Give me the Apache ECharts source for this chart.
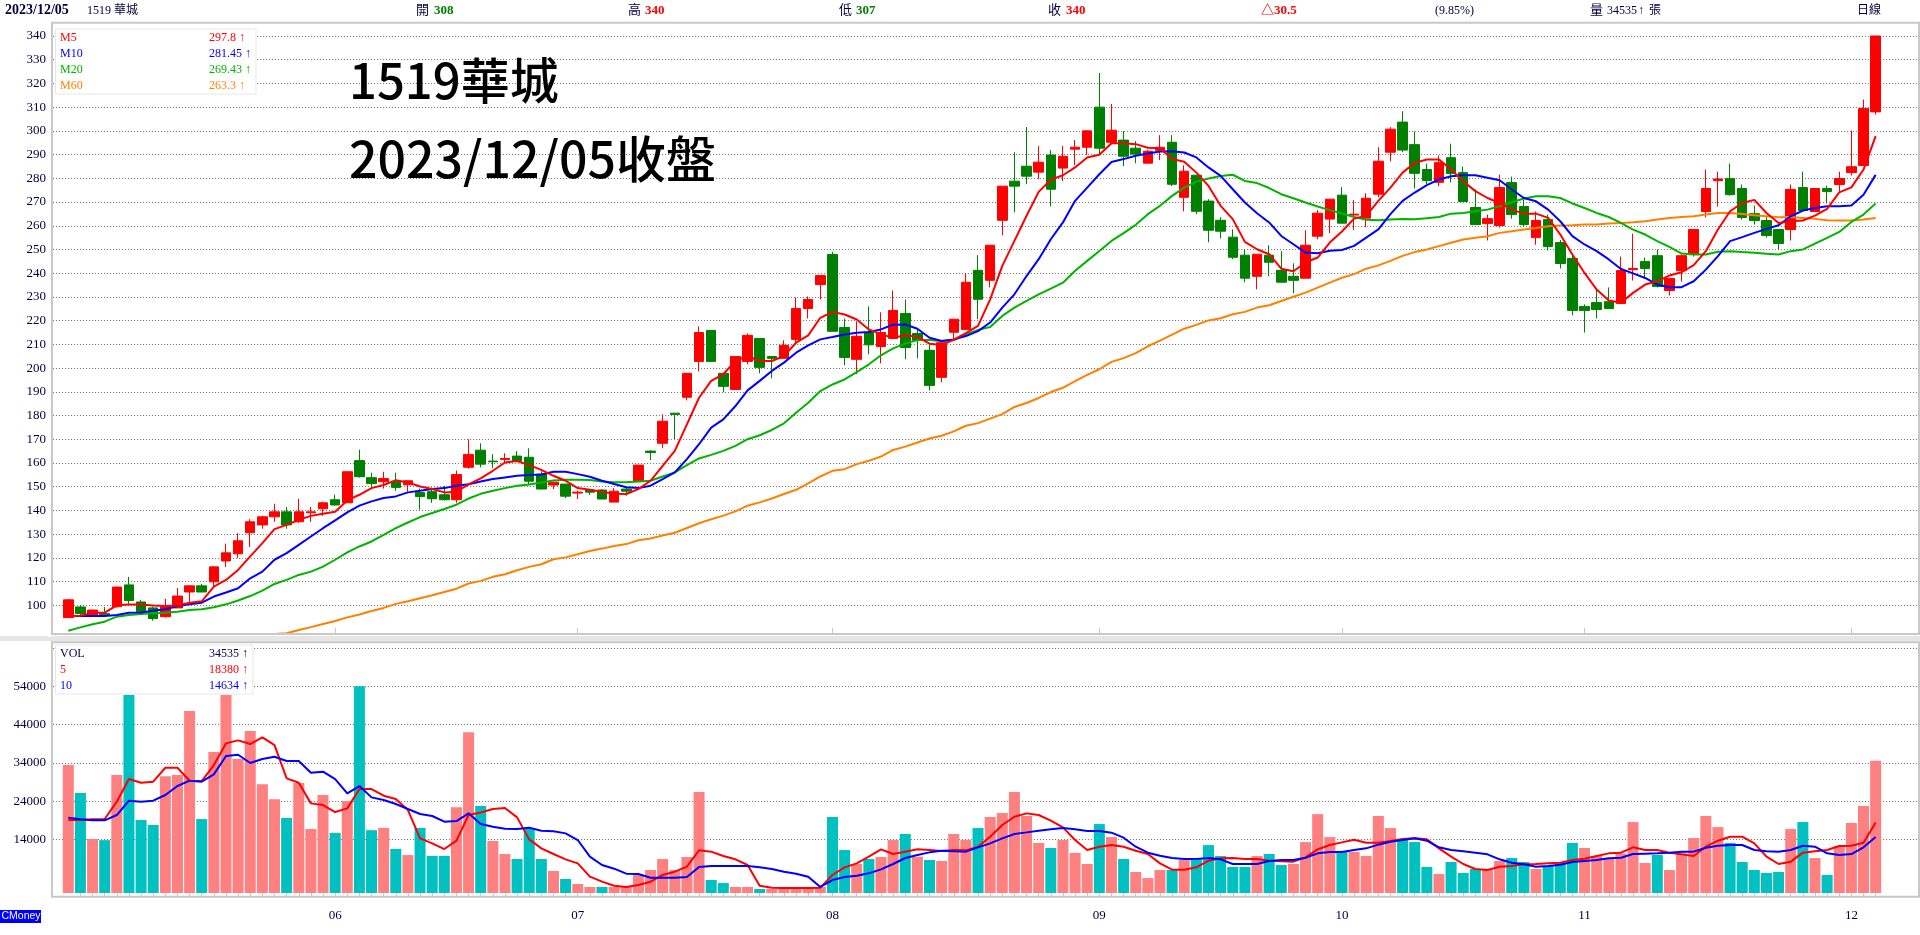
<!DOCTYPE html>
<html>
<head>
<meta charset="utf-8">
<title>1519 華城</title>
<script src="https://cdn.jsdelivr.net/npm/echarts@6/dist/echarts.min.js"></script>
<style>
html,body{margin:0;padding:0;background:#fff;}
#kChart{width:1920px;height:935px;}
</style>
</head>
<body>
<div id="kChart"></div>
<script>
var priceTicks = [100,110,120,130,140,150,160,170,180,190,200,210,220,230,240,250,260,270,280,290,300,310,320,330,340];
var volLabelTicks = [14000,24000,34000,44000,54000];
var volLineTicks = [14000,24000,34000,44000,54000,64000];
var monthLabels = ['06','07','08','09','10','11','12'];
var monthStarts = [22,42,63,85,105,125,147];

var opens = [94.8,99.3,95.9,96.5,99.4,108.6,101.4,98.9,95.2,98.9,
	105.6,108.2,109.9,118.7,121.7,130.6,133.9,137.3,139.4,135.2,
	139,140.7,144.5,143.2,161,153.8,152.1,152.1,150.8,147.5,
	147.9,146.6,144.5,158.2,165.4,160.8,161.5,162.9,162.4,155.3,
	150.7,151.1,147.3,148.6,148.6,143.5,149,152.3,165,168.3,
	181,187.7,202.8,215.9,197.8,191,202.8,212.5,204.9,204.1,
	212.1,225.1,235.2,247.9,217.1,203.7,215,209.1,212.5,223,
	214.6,207.5,196.1,215.1,216.3,241.2,237,262.3,278.8,285.1,
	282.6,289.8,284.3,292.3,293.1,310,295.2,296.1,292.7,286.4,
	291.8,295.2,272,281.3,270.4,262.3,255.2,247.6,238.7,247.6,
	241.2,238.7,237.9,255.6,262.8,272.9,264.5,263.2,273.3,291,
	303.7,294.2,283.7,278.3,288.7,282.4,267.7,260.9,260.1,278.2,
	268.1,255,262.6,252.9,246.2,226,227.6,228,227.2,241.5,
	244.9,247.4,232.7,241.1,247.9,266,279,279.9,275.7,265.1,
	262.2,258.4,258.4,276.1,266,275.7,277.4,282.4,285.4,308];
var closes = [102.3,96.5,98,96,107.7,102,97.3,94.4,99.4,103.9,
	108.2,105.6,116.2,122.1,127.2,135.2,137.3,139.4,133.9,139.4,
	139.4,143.2,142.3,156.3,154.2,151.3,153.4,149.7,152.5,145.8,
	144.9,144.5,155.1,163.6,159.5,160.5,161.9,160.8,152.3,149,
	151.9,146,147.7,147.7,144.8,148.1,148.1,159.1,164.4,177.6,
	180.4,197.8,215,202.8,192.3,204.9,213.8,200.3,204.1,209.6,
	225.1,228.9,239,215.5,204.5,213.4,209.8,215,224.3,208.7,
	211.7,192.7,210.7,220.6,236.2,229,251.8,276.7,276.7,280.9,
	286.8,275.4,289.3,293.1,300,292.7,300.3,289.3,290.2,291.4,
	293.1,277.5,283,266.1,258.1,257.7,246.7,237.9,248,244.6,
	236.2,237,251.8,265.3,271.2,261.1,264.9,271.6,287.2,300.7,
	291.9,282.1,279,286.6,282,270.2,260.5,263,276.1,264.7,
	260.5,262.2,251.2,244.1,224.3,224.3,224.7,225.1,241.1,242,
	242,234.4,237.8,247.4,258.4,275.7,279.7,273.1,263.5,262.2,
	255.9,252.5,275.3,266.4,275.7,274.4,279.9,284.9,309.4,340];
var lows = [94.8,95,95.5,95.6,99,100.6,97,93.5,94.8,98.9,
	101.5,105.6,107.9,116.2,120,124.6,132.3,135.2,132.3,134.8,
	135.2,137.7,142,143.2,153.8,149.4,149.2,148.3,147.9,140.3,
	143.2,144.1,143.2,157.6,158.2,157.8,160,160.8,151.1,149,
	149,145.2,144.8,146.5,144.8,143.5,146.2,152.3,161.2,166.2,
	170,186.4,198.6,202.8,189.8,191,201.6,197.8,195.7,204.1,
	210.4,220.9,228.9,215.5,201.2,197.4,205.8,202,212.5,203.7,
	204.1,190.6,194,212.1,216.3,220.6,234,256,265.7,277.5,
	279.6,268.2,278.8,285.5,289.8,290.2,294.4,285.1,286.4,286.4,
	287.7,276.7,266.1,264.9,253,254.7,245.9,236.2,233.2,238.7,
	236.2,231.5,237.9,254.3,256.9,261.1,258.1,259.4,272,287.2,
	291,275.7,277.6,276.7,278.3,270.2,260.5,253.8,259.2,263,
	259.7,252,249.6,242,222.2,215,220.9,225.1,227.2,236.9,
	237.8,234,230.6,236.5,247,263.5,268.1,272.7,262.6,260.5,
	255,250,253.8,266.4,266,269.4,274.4,281.2,285.4,306.9];
var highs = [102.7,100.1,98.2,99.3,107.7,112,102.3,99.4,102.7,107.3,
	108.2,109,116.2,126,130.4,136.3,137.7,142.8,141.5,144.9,
	141.5,143.7,146.6,156.3,165.6,155.9,156.3,155.9,152.5,149.2,
	149.6,150.4,156.8,170,168.3,163.7,164.1,165,166.2,156.5,
	151.9,151.1,148.3,149,149,149.4,149.8,159.1,165.4,180.5,
	181,197.8,217.6,215.9,197.8,204.9,214.6,212.5,204.9,211.7,
	229.8,230.2,239,249,220.9,219.7,226,223.5,232.7,228.9,
	216.3,210,210.7,220.8,240,247.6,251.8,276.7,291,301.6,
	293.6,291.9,293.6,296.1,300.3,324.4,311.3,299.9,295.7,292,
	298.2,298.2,285.5,281.3,271.2,263.6,258.5,250.1,248,251.8,
	249.3,244.2,258.1,266.6,271.2,276.3,270.8,273.7,293.1,301.6,
	308.3,299.7,286.2,289.6,294.6,284.9,275.3,264.7,281.6,280.7,
	271,266,264.7,254,247.9,226.8,233.5,234,247,256.7,
	246.6,250,237.8,247.9,258.4,283.7,282.8,286.2,277.4,268.5,
	263.9,258.4,277.4,282.8,275.7,276.9,282.8,300.1,313.2,340];

var ma5 = [95.5,95.6,96.9,96.9,100,100.3,100.3,99.9,99.7,99.9,
	101.1,101.7,107.9,110.7,114.9,120.6,126.2,132.1,133.9,136,
	137.7,138.6,139.4,144.2,146.6,149.4,150.7,152.7,151.8,150.1,
	149,147.6,147.9,151,153.5,156.7,160.2,160.8,159.1,157.1,
	154.6,152.5,149.4,148.7,147.9,147,146.9,149,152.5,158.8,
	165.1,176.3,187.5,194.6,197.4,203,205.1,203,203,205.1,
	210.7,213.8,221.2,223.7,222.6,220.5,216.3,214.2,212.8,213.8,
	213.2,210.3,209.7,212,214.7,217.8,229,243.1,253.6,264.2,
	274.3,279.4,281.3,284.6,288.8,289.9,294.8,294.8,294.4,292.9,
	292.7,288.1,287,282.4,276.8,268.4,262.8,253.2,250.1,248,
	241.9,240.8,244.5,246.6,252.9,257.6,263,264.2,270.5,276.1,
	282.4,286.5,287.9,287.9,283.7,278.8,274.6,271.7,269.6,266.8,
	265.1,265.1,263.3,256.3,247.9,240.1,233.1,228.5,227.5,231.7,
	235.2,236.6,239,240.4,243.4,249.3,258.4,266.1,269.6,270.9,
	265.4,261.2,261.9,262.2,264.3,267.1,274.1,276.2,283.7,297.8];
var ma10 = [95.5,95.5,95.5,95.5,95.9,96.9,97,97.7,98.3,99.7,
	100.4,101.1,103.7,105.4,107.2,111.4,114.2,119.2,122,125.5,
	129,132.5,135.8,139.2,142,143.8,145.2,145.9,147.6,148.3,
	149,149.4,150.4,151,152.2,153.2,153.9,154.6,154.9,155.1,
	156.3,156.3,155.3,154.2,152.5,151.1,149.8,149.4,150.4,153.2,
	156,161.6,167.9,174.9,178.4,184,190.6,194.6,198.8,202.3,
	206.5,209.6,212.1,213.1,214.2,214.9,215.2,216.3,218.3,218.4,
	216.6,212.8,211.4,212.1,213.5,215.6,219.2,225.5,231.1,238.8,
	245.9,254.3,261.4,270.5,276.1,281.7,286.9,288.1,289.5,290.5,
	291.3,291.4,290.9,288.8,284.6,281,275.4,269.8,265.3,261.4,
	255.7,252.2,248.7,248.4,249.5,249.8,251.5,255,258.5,264.9,
	270.5,274,277.1,279.5,280.9,281.3,281.3,280.2,279.2,275.3,
	271.7,270.3,266.8,261.9,255.6,252.1,249.3,245.8,241.8,239.9,
	238,235.2,234.1,234.1,236.6,241.5,247.2,253.5,255.2,257,
	258.7,260.2,264,266.4,267.5,268.2,268.2,268.5,273.1,281.45];
var ma20 = [89.3,90.7,92,93.1,95.2,95.9,96.3,96.6,96.9,97.3,
	98,98.3,99.2,100.4,102,103.9,106.2,109,110.7,112.8,
	114.2,116.3,119.2,122.3,124.8,126.9,129.7,132.5,134.9,137.2,
	138.9,140.6,142.4,145,147,148.3,149.4,150.4,150.9,151.8,
	152.6,152.9,152.9,152.8,152.2,151.9,151.9,152.2,152.5,154.3,
	156,159.1,161.9,163.4,165.1,167.2,170,171.7,173.9,176.7,
	181.2,185.4,190.3,193.1,195.2,198.3,201.6,205.4,208.3,210.3,
	211.8,211.8,211.4,211.7,214.2,216.1,217.3,222,225.5,228.3,
	231.1,233.5,236,241,245.2,249.4,253.6,256.9,260.4,264.9,
	268.4,272.6,276.1,278.6,279.9,281,281.5,278.9,278,275.9,
	273.3,271.6,269.8,268.1,266.6,265.2,263.7,262.5,262.3,262.6,
	262.8,262.7,263.2,263.7,265.1,265.4,266.1,266.8,268.2,269.9,
	271.5,272.4,272.4,271.7,269.4,267.5,265.4,263.7,261.2,258.4,
	256.3,253.5,251.1,248.3,247.9,247.9,249,249.3,248.9,248.6,
	248.2,247.9,249.3,250,252.5,254.9,257.4,261.6,264.7,269.43];
var ma60 = ['-','-','-','-','-','-','-','-','-','-',
	'-','-','-','-','-','-','-',87.9,88.2,89.6,
	90.8,92.1,93.4,94.9,96.1,97.6,98.9,100.6,101.7,103,
	104.2,105.6,107,109.2,110.3,112,113.1,114.8,116.2,117.3,
	119.4,120.2,121.5,122.9,123.9,125,125.8,127.4,128.2,129.4,
	130.6,132.6,134.6,136.3,137.8,139.6,142,143.4,145,146.9,
	148.7,151.4,154.3,156.7,157.4,159.5,160.9,162.7,165.5,166.9,
	168.6,170.3,171.5,173.3,175.7,176.8,178.7,180.6,183.6,185.3,
	187.4,189.9,191.7,194.5,197.1,199.5,202.6,204.2,206.3,209.2,
	211.6,214.1,216.6,218.2,220.1,221,222.7,223.7,225.5,226.5,
	228.3,230.1,231.8,233.9,236,238.1,239.6,241.9,243.3,245.2,
	247.3,248.9,250,251.4,252.8,254.2,254.9,255.6,257,257.7,
	258.4,259.1,259.8,260.1,260.2,260.5,260.5,260.9,261.2,261.5,
	261.9,262.6,263.3,263.7,264,264.7,265.4,265.4,265,264.4,
	264,263.6,263.7,263.3,262.9,262.3,262.2,262.2,262.6,263.3];

var vols = [33400,26100,14100,13800,30800,51700,19050,17750,30500,30800,
	47500,19300,36800,51700,35000,42300,28400,24500,19600,28700,
	16700,25600,15700,24000,54000,16400,17000,11500,9900,17000,
	9700,9700,22400,42000,22700,13570,10180,8870,16960,8870,
	5740,3650,2350,1570,1570,1570,1570,4700,6000,8870,
	6000,9400,26360,3400,2600,1570,1570,1040,1040,1570,
	1570,1570,1570,19840,11220,7570,8870,9400,13830,15400,
	9480,8610,8350,15400,13830,16960,19840,20880,26360,20100,
	13050,11750,13830,10440,7570,18000,14600,8870,5480,3900,
	6000,6000,8600,8870,12500,9650,6800,6800,9650,10180,
	7300,7570,13300,20600,14600,10800,10700,9650,20100,16960,
	13830,13300,6800,4960,8090,5220,6260,6000,8350,9135,
	8090,6260,7050,7740,13050,11750,9650,9050,10350,18530,
	7830,9920,6000,10350,14350,20100,17200,13050,8090,6000,
	5220,5480,16700,18530,9135,4700,12270,18270,22700,34535];
var volUp = [1,0,1,0,1,0,0,0,1,1,
	1,0,1,1,1,1,1,1,0,1,
	1,1,0,1,0,0,1,0,1,0,
	0,0,1,1,0,1,1,0,0,0,
	1,0,1,1,0,1,1,1,1,1,
	1,1,1,0,0,1,1,0,1,1,
	1,1,1,0,0,1,0,1,1,0,
	1,0,1,1,1,0,1,1,1,1,
	1,0,1,1,1,0,1,0,1,1,
	1,0,1,0,0,0,0,0,1,0,
	0,1,1,1,1,0,1,1,1,1,
	0,0,0,1,0,0,0,1,1,0,
	0,1,0,0,0,1,1,1,1,1,
	1,0,1,1,1,1,1,0,0,0,
	0,0,1,0,1,0,1,1,1,1];
var volMa5 = [19050,19050,19230,19310,23840,29750,28800,29060,32710,32710,
	29320,29230,33410,39060,39850,38890,40630,38630,29930,28800,
	23400,22970,21140,22100,27140,27140,25400,24530,21660,14270,
	12960,11480,13660,20360,21000,21920,22190,19750,14000,11660,
	10180,8790,7740,4260,2960,1910,1570,2090,2960,4700,
	5570,6870,11140,10790,9660,8790,7310,1910,1390,1300,
	1300,1300,1390,4700,6700,7740,9480,11400,10180,10790,
	11400,11220,10960,11220,11140,12090,14700,17750,19920,20790,
	20360,18880,17140,13830,11220,12090,12530,12090,11050,10180,
	7740,6090,6090,6700,8440,9050,9140,8870,8870,8440,
	8270,8180,9310,11400,12530,13220,13920,13140,13140,13570,
	14090,14270,14010,11660,9480,7570,6260,6000,6870,7050,
	7480,7570,7740,7920,8610,8960,9660,10350,10530,11920,
	11220,11220,10530,10090,9660,12090,13660,14700,14700,12960,
	9480,7570,8180,10530,10880,11220,12270,12350,13140,18380];
var volMa10 = [19660,19230,18970,18970,20360,24100,23840,24100,25580,27930,
	29320,29060,30970,35760,36100,33930,34970,35580,34450,34450,
	31410,31670,29750,26010,27930,24970,24270,23230,21920,20620,
	20100,18620,18790,20790,18000,17310,16790,16700,17050,16270,
	16100,15570,13830,9480,7310,6350,5050,4960,4000,4000,
	4000,4180,6790,7050,7050,7050,7050,6700,6260,5570,
	5050,4260,1570,3390,4180,4520,5130,6180,7570,9140,
	9920,10610,11050,10880,10790,11920,12960,14270,15400,15830,
	16270,16620,16970,16620,16180,16180,15750,14440,12090,10530,
	9740,9140,8870,8870,9140,8790,7570,7570,7570,8350,
	8610,8610,9220,10350,10700,10700,11220,11660,12620,13400,
	13830,14270,13660,11920,11220,10880,10530,10090,8790,7920,
	7480,6870,7050,7400,8090,8350,8610,9050,9220,10180,
	10270,10350,10530,10790,10790,11830,12350,12530,12530,11220,
	10880,10790,11220,12350,12090,10350,9920,10180,11920,14634];

// one empty slot in front of the first day, three after the last
function pad(arr){
	return ['-'].concat(arr,['-','-','-']);
}

var axisData = [];
for(var i=0;i<154;i++){
	var m = monthStarts.indexOf(i-1);
	axisData.push(m>=0 ? monthLabels[m] : '');
}

var candleData = ['-'];
for(var i=0;i<opens.length;i++){
	candleData.push([opens[i],closes[i],lows[i],highs[i]]);
}
candleData.push('-','-','-');

var volData = ['-'];
for(var i=0;i<vols.length;i++){
	volData.push({value:vols[i],itemStyle:{color:volUp[i]?'#ff8080':'#00c0c0'}});
}
volData.push('-','-','-');

var serif = '"Liberation Serif","Noto Sans CJK TC",serif';
var navy = '#000040';

function txt(x,y,text,color,opt){
	opt = opt || {};
	return {
		type:'text',z:100,silent:true,x:x,y:y,
		style:{
			text:text,fill:color,
			font:(opt.weight||'normal')+' '+(opt.size||12)+'px '+(opt.family||serif),
			textVerticalAlign:'middle'
		}
	};
}
function box(x,y,w,h,fill,stroke,lw){
	return {
		type:'rect',z:99,silent:true,
		shape:{x:x,y:y,width:w,height:h},
		style:{fill:fill,stroke:stroke||null,lineWidth:lw||0}
	};
}

var graphics = [
	box(0,636,1920,5,'#e5e5e5'),
	box(48,20,3,617,'#fff'),
	box(48,641,3,258,'#fff'),
	box(52,22.7,1867,611.3,'none','#c8c8c8',2),
	box(52,642.3,1867,254.4,'none','#c8c8c8',2),
	box(55.5,29,200.5,65,'#fff','#e8e8e8',1),
	box(55.5,645,197.5,49,'#fff','#e8e8e8',1),
	box(0,910,41,13,'#0000ff'),

	txt(5,10.5,'2023/12/05',navy,{weight:'bold',size:14}),
	txt(87,10.5,'1519 華城',navy),
	txt(416,10.5,'開',navy,{size:13}),
	txt(434,10.5,'308','#008000',{weight:'bold',size:13}),
	txt(628,10.5,'高',navy,{size:13}),
	txt(645,10.5,'340','#ff0000',{weight:'bold',size:13}),
	txt(839,10.5,'低',navy,{size:13}),
	txt(856,10.5,'307','#008000',{weight:'bold',size:13}),
	txt(1048,10.5,'收',navy,{size:13}),
	txt(1066,10.5,'340','#ff0000',{weight:'bold',size:13}),
	txt(1261,10.5,'△30.5','#ff0000',{weight:'bold',size:13}),
	txt(1435,10.5,'(9.85%)',navy),
	txt(1590,10.5,'量',navy,{size:13}),
	txt(1607,10.5,'34535',navy),
	txt(1638,10.5,'↑',navy),
	txt(1649,10.5,'張',navy),
	txt(1857,10.5,'日線',navy),

	txt(60,38,'M5','#ff0000'),
	txt(209,38,'297.8 ↑','#ff0000'),
	txt(60,54,'M10','#0000ff'),
	txt(209,54,'281.45 ↑','#0000ff'),
	txt(60,70,'M20','#00b400'),
	txt(209,70,'269.43 ↑','#00b400'),
	txt(60,86,'M60','#ff8000'),
	txt(209,86,'263.3 ↑','#ff8000'),

	txt(60,654,'VOL',navy),
	txt(209,654,'34535 ↑',navy),
	txt(60,670,'5','#ff0000'),
	txt(209,670,'18380 ↑','#ff0000'),
	txt(60,686,'10','#0000ff'),
	txt(209,686,'14634 ↑','#0000ff'),

	txt(1.5,916.5,'CMoney','#ffffff',{size:10.5,family:'"Liberation Sans",sans-serif'}),

	txt(349,80,'1519華城','#000000',{size:49,weight:500,family:'"Noto Sans CJK TC",sans-serif'}),
	txt(349,159,'2023/12/05收盤','#000000',{size:50,weight:500,family:'"Noto Sans CJK TC",sans-serif'})
];

var splitDotted = {show:true,lineStyle:{type:[1,2],color:'#707070',width:1}};

function plainNumber(v){
	return String(v);
}

function maLine(name,arr,color,xi,yi){
	return {
		name:name,type:'line',data:pad(arr),
		xAxisIndex:xi,yAxisIndex:yi,
		symbol:'none',
		lineStyle:{color:color,width:2},
		z:5
	};
}

var kChart = echarts.init(document.getElementById('kChart'));
kChart.setOption({
	animation:false,
	backgroundColor:'#fff',
	grid:[
		{left:50.1,top:22.7,width:1868,height:611.3},
		{left:50.1,top:642.3,width:1868,height:254.4}
	],
	xAxis:[
		{
			type:'category',gridIndex:0,data:axisData,
			axisLine:{show:false},
			axisLabel:{show:false},
			axisTick:{
				show:true,inside:true,length:6,alignWithLabel:true,
				lineStyle:{color:'#c8c8c8'},
				interval:function(idx){return monthStarts.indexOf(idx-1)>=0;}
			},
			splitLine:{show:false}
		},
		{
			type:'category',gridIndex:1,data:axisData,
			offset:2,
			axisLine:{show:false},
			axisLabel:{
				show:true,interval:0,margin:10,
				color:navy,fontFamily:serif,fontSize:13
			},
			axisTick:{
				show:true,length:3.5,alignWithLabel:true,
				lineStyle:{color:'#c8c8c8'},
				interval:function(idx){return idx>=2 && idx<=150;}
			},
			splitLine:{show:false}
		}
	],
	yAxis:[
		{
			type:'value',gridIndex:0,min:87.9,max:345.6,
			axisLine:{show:false},
			axisTick:{show:false,customValues:priceTicks},
			axisLabel:{customValues:priceTicks,margin:4,color:navy,fontFamily:serif,fontSize:13,formatter:plainNumber},
			splitLine:splitDotted
		},
		{
			type:'value',gridIndex:1,min:-966,max:65457,
			axisLine:{show:false},
			axisTick:{show:false,customValues:volLineTicks},
			axisLabel:{customValues:volLabelTicks,margin:4,color:navy,fontFamily:serif,fontSize:13,formatter:plainNumber},
			splitLine:splitDotted
		}
	],
	series:[
		{
			name:'K',type:'candlestick',data:candleData,
			xAxisIndex:0,yAxisIndex:0,
			barWidth:10,
			itemStyle:{
				color:'#ff0000',color0:'#008000',
				borderColor:'#ff0000',borderColor0:'#008000',
				borderWidth:1
			},
			z:3
		},
		maLine('M60',ma60,'#ff8000',0,0),
		maLine('M20',ma20,'#00b400',0,0),
		maLine('M10',ma10,'#0000ff',0,0),
		maLine('M5',ma5,'#ff0000',0,0),
		{
			name:'VOL',type:'bar',data:volData,
			xAxisIndex:1,yAxisIndex:1,
			barWidth:11,
			z:3
		},
		maLine('5',volMa5,'#ff0000',1,1),
		maLine('10',volMa10,'#0000ff',1,1)
	],
	graphic:{elements:graphics}
});
</script>
</body>
</html>
